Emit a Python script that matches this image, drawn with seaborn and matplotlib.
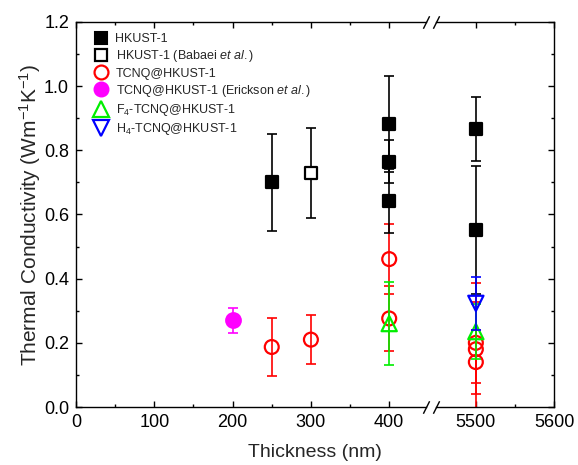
import matplotlib
matplotlib.use("Agg")
import matplotlib.pyplot as plt
from matplotlib.lines import Line2D
from matplotlib.ticker import MultipleLocator, FixedLocator, FormatStrFormatter
import seaborn as sns

# Thermal conductivity (W m^-1 K^-1) versus film thickness (nm)
hkust_x = [250, 400, 400, 400, 5500, 5500]
hkust_y = [0.70, 0.882, 0.765, 0.643, 0.866, 0.552]
hkust_err = [0.15, 0.15, 0.067, 0.10, 0.10, 0.20]

babaei_x = [300]
babaei_y = [0.729]
babaei_err = [0.141]

tcnq_x = [250, 300, 400, 400, 5500, 5500, 5500]
tcnq_y = [0.187, 0.21, 0.461, 0.276, 0.20, 0.18, 0.14]
tcnq_err = [0.09, 0.077, 0.11, 0.10, 0.126, 0.207, 0.10]

erickson_x = [200]
erickson_y = [0.27]
erickson_err = [0.04]

f4_x = [400, 5500]
f4_y = [0.26, 0.235]
f4_err = [0.13, 0.085]

h4_x = [5500]
h4_y = [0.323]
h4_err = [0.083]

labels = [
    "HKUST-1",
    "HKUST-1 (Babaei $\\it{et\\ al.}$)",
    "TCNQ@HKUST-1",
    "TCNQ@HKUST-1 (Erickson $\\it{et\\ al.}$)",
    "F$_4$-TCNQ@HKUST-1",
    "H$_4$-TCNQ@HKUST-1",
]

sns.set_theme(style="ticks")
plt.rcParams.update({
    "font.family": ["Liberation Sans", "DejaVu Sans"],
    "mathtext.fontset": "custom",
    "mathtext.rm": "Liberation Sans",
    "mathtext.it": "Liberation Sans:italic",
    "mathtext.bf": "Liberation Sans:bold",
    "axes.linewidth": 1.0,
    "axes.edgecolor": "black",
    "xtick.color": "black",
    "ytick.color": "black",
    "xtick.direction": "in",
    "ytick.direction": "in",
    "xtick.major.size": 4.5,
    "ytick.major.size": 4.5,
    "xtick.minor.size": 2.5,
    "ytick.minor.size": 2.5,
    "xtick.major.width": 1.0,
    "ytick.major.width": 1.0,
    "xtick.minor.width": 1.0,
    "ytick.minor.width": 1.0,
    "xtick.labelsize": 13,
    "ytick.labelsize": 13,
    "xtick.major.pad": 5,
    "ytick.major.pad": 5,
})

W, H = 578, 465
fig = plt.figure(figsize=(W / 100, H / 100), dpi=100)


def box(x0, x1, y0=22, y1=407):
    return [x0 / W, 1 - y1 / H, (x1 - x0) / W, (y1 - y0) / H]


ax1 = fig.add_axes(box(76, 426))
ax2 = fig.add_axes(box(436, 554), sharey=ax1)

series = [
    # x, y, err, marker, size, face, edge, line colour, zorder
    (tcnq_x, tcnq_y, tcnq_err, "o", 100, "none", "#ff0000", "#ff0000", 2),
    (hkust_x, hkust_y, hkust_err, "s", 85, "black", "black", "black", 4),
    (babaei_x, babaei_y, babaei_err, "s", 85, "white", "black", "black", 6),
    (erickson_x, erickson_y, erickson_err, "o", 110, "#ff00ff", "#ff00ff", "#ff00ff", 8),
    (f4_x, f4_y, f4_err, "^", 120, "none", "#00ee00", "#00ee00", 10),
    (h4_x, h4_y, h4_err, "v", 120, "none", "#0000ff", "#0000ff", 12),
]

for ax in (ax1, ax2):
    for x, y, e, m, s, fc, ec, lc, z in series:
        ax.errorbar(x, y, yerr=e, fmt="none", ecolor=lc, elinewidth=1.2,
                    capsize=3.4, capthick=1.2, zorder=z)
        sns.scatterplot(x=x, y=y, marker=m, s=s, facecolor=fc, edgecolor=ec,
                        linewidth=1.6, ax=ax, zorder=z + 1, legend=False)

ax1.set_xlim(0, 447)
ax2.set_xlim(5449, 5600)
ax1.set_ylim(0, 1.2)

ax1.xaxis.set_major_locator(MultipleLocator(100))
ax1.xaxis.set_minor_locator(FixedLocator([50, 150, 250, 350]))
ax2.xaxis.set_major_locator(FixedLocator([5500, 5600]))
ax2.xaxis.set_minor_locator(FixedLocator([5550]))
ax1.yaxis.set_major_locator(MultipleLocator(0.2))
ax1.yaxis.set_minor_locator(MultipleLocator(0.1))
ax1.yaxis.set_major_formatter(FormatStrFormatter("%.1f"))

ax1.spines["right"].set_visible(False)
ax2.spines["left"].set_visible(False)
ax1.tick_params(axis="x", which="both", top=True, bottom=True)
ax2.tick_params(axis="x", which="both", top=True, bottom=True)
ax1.tick_params(axis="y", which="both", left=True, right=False)
ax2.tick_params(axis="y", which="both", left=False, right=True,
                labelleft=False, labelright=False)
for ax in (ax1, ax2):
    ax.set_xlabel("")
    ax.set_ylabel("")

# break marks on the x axis
slash = dict(marker=[(-0.5, -1), (0.5, 1)], markersize=9, linestyle="none",
             color="black", mec="black", mew=1.0, clip_on=False)
ax1.plot([1, 1], [0, 1], transform=ax1.transAxes, **slash)
ax2.plot([0, 0], [0, 1], transform=ax2.transAxes, **slash)

ax1.set_ylabel("Thermal Conductivity (Wm$^{-1}$K$^{-1}$)", fontsize=15, labelpad=0.5)
fig.text((76 + 554) / 2 / W, 1 - 452 / H, "Thickness (nm)", fontsize=14,
         ha="center", va="center")

handles = [
    Line2D([], [], ls="none", marker="s", ms=9, mfc="black", mec="black", mew=1.5),
    Line2D([], [], ls="none", marker="s", ms=9, mfc="white", mec="black", mew=1.6),
    Line2D([], [], ls="none", marker="o", ms=10, mfc="none", mec="#ff0000", mew=1.6),
    Line2D([], [], ls="none", marker="o", ms=10.5, mfc="#ff00ff", mec="#ff00ff", mew=1.0),
    Line2D([], [], ls="none", marker="^", ms=11, mfc="none", mec="#00ee00", mew=1.6),
    Line2D([], [], ls="none", marker="v", ms=11, mfc="none", mec="#0000ff", mew=1.6),
]
ax1.legend(handles, labels, loc="upper left", bbox_to_anchor=(93 / W, 1 - 33 / H),
           bbox_transform=fig.transFigure, frameon=False, fontsize=9,
           handlelength=1.2, handletextpad=0.6, labelspacing=0.26, borderpad=0,
           borderaxespad=0)

fig.savefig("out.png", dpi=100)
